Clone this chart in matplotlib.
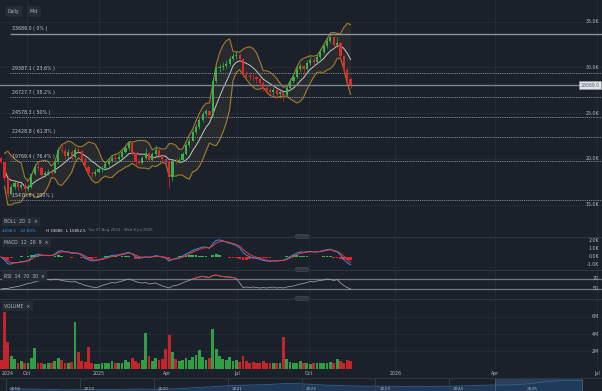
import matplotlib
matplotlib.use('Agg')
import matplotlib.pyplot as plt
import numpy as np
import pandas as pd
from matplotlib.patches import FancyBboxPatch
from matplotlib.transforms import blended_transform_factory

W, H = 602, 391
BG = '#1b212a'
GRID = '#262d37'
TXT = '#b4b9bf'
UP = '#36b44b'
DOWN = '#e3262b'

# ---- data (one candle = 3 trading days) ----
first_open = 20100
closes = [19700, 17900, 16100, 16900, 17300, 16900, 17100, 16700, 16900, 18300,
          19100, 19000, 18200, 18400, 18600, 18500, 19600, 21000, 20900, 20300,
          20800, 20200, 21000, 20900, 20000, 19100, 18500, 18300, 18600, 18900,
          19000, 19400, 19800, 20100, 20000, 20200, 20800, 21200, 21700, 20600,
          19600, 19500, 20100, 20600, 19900, 20500, 21000, 20300, 20000, 19700,
          18000, 19800, 19700, 19900, 20500, 21500, 22000, 22900, 23500, 24200,
          24900, 25200, 24800, 28500, 29900, 30000, 30200, 30400, 30900, 31200,
          31400, 30900, 29200, 29100, 29000, 28900, 28700, 28300, 27800, 27500,
          27300, 27500, 27100, 27300, 27000, 27800, 28500, 29000, 29800, 30100,
          29800, 30500, 30800, 30600, 31100, 31700, 32300, 32900, 33300, 32400,
          32700, 31200, 29700, 28700, 28069]
highs = [20300, 19800, 18100, 17200, 17600, 17500, 17400, 17300, 17200, 18500,
         19400, 19500, 19200, 18700, 18900, 18900, 19800, 21300, 21700, 21200,
         21100, 21000, 21300, 21400, 21000, 20200, 19300, 18700, 18900, 19200,
         19300, 19700, 20100, 20400, 20400, 20500, 21100, 21500, 21900, 21800,
         20700, 19900, 20300, 21200, 20700, 20800, 21500, 21100, 20400, 20100,
         19800, 20000, 20100, 20200, 20700, 21700, 22300, 23100, 23800, 24500,
         25200, 25500, 25300, 28800, 30300, 30400, 30600, 30800, 31200, 31600,
         31800, 31600, 31000, 29600, 29400, 29300, 29100, 28900, 28500, 28000,
         27800, 27900, 27600, 27500, 27400, 28000, 28800, 29300, 30100, 30500,
         30300, 30800, 31200, 31100, 31500, 32000, 32600, 33200, 33686, 33400,
         33300, 32800, 31300, 29900, 28900]
lows = [19500, 17600, 15852.5, 16000, 16700, 16600, 16700, 16400, 16500, 16800,
        18200, 18700, 17900, 18000, 18200, 18200, 18400, 19500, 20600, 20000,
        20100, 19900, 20000, 20600, 19700, 18900, 18200, 18000, 18100, 18400,
        18600, 18800, 19200, 19600, 19700, 19800, 20100, 20600, 21000, 20400,
        19300, 19300, 19400, 20000, 19600, 19800, 20300, 20100, 19700, 19300,
        16800, 17600, 19400, 19500, 19800, 20400, 21300, 21900, 22700, 23300,
        24000, 24700, 24500, 24700, 28300, 29500, 29700, 29900, 30200, 30700,
        30900, 30600, 28900, 28800, 28600, 28500, 28300, 27900, 27400, 27100,
        26900, 27000, 26700, 26700, 26300, 26900, 27600, 28300, 28800, 29600,
        29400, 29600, 30300, 30200, 30400, 30900, 31500, 32100, 32700, 32100,
        32200, 30900, 29400, 28300, 27700]
volumes = [1.0, 6.6, 3.1, 1.4, 1.1, 0.7, 0.9, 0.6, 0.7, 1.2,
           2.4, 0.7, 0.6, 0.5, 0.7, 0.6, 0.9, 1.2, 1.0, 0.7,
           0.6, 0.8, 5.4, 1.9, 0.9, 0.8, 2.5, 0.7, 0.5, 0.5,
           0.6, 0.7, 0.6, 0.9, 0.6, 0.7, 0.6, 1.0, 0.8, 1.2,
           0.9, 0.6, 1.0, 4.1, 1.4, 0.9, 1.2, 1.0, 1.1, 2.3,
           3.9, 1.9, 1.1, 0.9, 1.0, 1.2, 1.0, 1.3, 1.6, 2.1,
           1.3, 1.0, 1.2, 4.6, 2.3, 1.4, 1.1, 1.0, 1.3, 0.9,
           1.0, 0.8, 1.4, 0.9, 0.7, 0.8, 0.6, 0.7, 0.9, 0.6,
           0.6, 0.7, 0.6, 0.7, 3.6, 1.1, 0.8, 0.7, 0.6, 0.9,
           0.6, 0.7, 0.5, 0.6, 0.7, 0.6, 0.7, 0.6, 0.8, 0.7,
           1.1, 0.9, 0.7, 1.0, 0.9]
rsi_vals = [50, 51, 51, 53, 54, 55, 57, 59, 61, 62,
            64, 66, 67, 68, 69, 68, 70, 69, 67, 66,
            65, 64, 65, 62, 60, 57, 56, 54, 53, 54,
            57, 59, 61, 63, 62, 64, 66, 68, 70, 68,
            65, 63, 62, 63, 60, 61, 62, 59, 56, 54,
            52, 56, 57, 59, 62, 65, 67, 70, 72, 74,
            75, 74, 73, 77, 78, 76, 75, 74, 74, 73,
            71, 62, 53, 54, 53, 54, 53, 52, 53, 52,
            53, 54, 52, 53, 52, 54, 55, 56, 58, 60,
            61, 63, 65, 64, 66, 67, 68, 70, 69, 67,
            69, 62, 57, 53, 50]

fib_levels = [33686.0, 29387.1, 26727.7, 24578.3, 22428.8, 19769.4, 15470.6]
fib_pcts = ['0%', '23.6%', '38.2%', '50%', '61.8%', '76.4%', '100%']
last_price = 28069.0

price_ticks = [15000, 20000, 25000, 30000, 35000]
macd_ticks = [-1000, 0, 1000, 2000]
rsi_ticks = [50, 70]
vol_ticks = [2, 4, 6]
time_labels = ['2024', 'Oct', '2025', 'Apr', 'Jul', 'Oct', '2026', 'Apr', 'Jul']
time_slots = [7, 24, 88, 149, 212, 276, 353, 442, 533]

ov_years = [2018, 2019, 2020, 2021, 2022, 2023, 2024, 2025]
ov_values = [8, 7.5, 7, 6, 6.5, 6.8, 7, 7.5, 7, 8, 10, 12, 14, 15, 16, 18,
             17, 15, 14, 13, 13, 12.5, 12, 12.5, 13, 14, 15, 15, 17, 21, 24, 23]

# ---- derived ----
n = len(closes)
x = np.arange(n) * 3 + 1
opens = [first_open] + closes[:-1]
s = pd.Series(closes, dtype=float)
mid = s.rolling(7, min_periods=2).mean()
sd = s.rolling(7, min_periods=2).std(ddof=0)
upper = mid + 2 * sd
lower = mid - 2 * sd
macd = s.ewm(span=4, adjust=False).mean() - s.ewm(span=9, adjust=False).mean()
signal = macd.ewm(span=3, adjust=False).mean()
hist = macd - signal
up = np.array(closes) >= np.array(opens)
cols = np.where(up, UP, DOWN)

fig = plt.figure(figsize=(W / 100, H / 100), dpi=100, facecolor=BG)
XMAX = 537.5


def pane(top, bottom, xmax=XMAX):
    ax = fig.add_axes([0, 1 - bottom / H, 1, (bottom - top) / H])
    ax.set_facecolor(BG)
    ax.set_xlim(0, xmax)
    for sp in ax.spines.values():
        sp.set_visible(False)
    ax.set_xticks([])
    ax.set_yticks([])
    return ax


def ftext(px, py, txt, **kw):
    kw.setdefault('fontsize', 3.3)
    kw.setdefault('color', TXT)
    kw.setdefault('va', 'center')
    return fig.text(px / W, 1 - py / H, txt, **kw)


def right_labels(ax, ticks, fmt):
    tr = blended_transform_factory(ax.transAxes, ax.transData)
    for t in ticks:
        ax.text(0.995, t, fmt(t), transform=tr, ha='right', va='center',
                fontsize=3.4, color=TXT)


def vgrid(ax):
    for sl in time_slots[1:]:
        ax.axvline(sl, color=GRID, lw=0.6, zorder=0)


# main pane
ax = pane(0, 236)
ax.set_ylim(11556, 37374)
vgrid(ax)
for p in price_ticks:
    ax.axhline(p, color=GRID, lw=0.6, zorder=0)
ax.fill_between(x, lower, upper, color='#3a3934', alpha=0.45, lw=0, zorder=1)
ax.plot(x, upper, color='#a47c2c', lw=0.8, zorder=2)
ax.plot(x, lower, color='#a47c2c', lw=0.8, zorder=2)
ax.plot(x, mid, color='#c4c6c8', lw=0.7, zorder=2)
ax.vlines(x, lows, highs, colors=cols, lw=0.5, zorder=3)
body = np.array(closes) - np.array(opens)
ax.bar(x, np.where(np.abs(body) < 60, 60, body), bottom=opens, width=1.9,
       color=cols, lw=0, zorder=4)
for lvl, pct in zip(fib_levels, fib_pcts):
    if pct == '0%':
        ax.hlines(lvl, 9, XMAX, color='#8d939b', lw=1.0, zorder=2)
    else:
        ax.hlines(lvl, 9, XMAX, color='#9aa0a8', lw=0.6, ls=(0, (1.3, 1.3)), zorder=2)
    ax.text(11, lvl + 250, f'{lvl:.1f} ( {pct} )', fontsize=3.4, color='#c5c9ce',
            va='bottom', ha='left', zorder=5)
ax.axhline(last_price, color='#7d838b', lw=1.0, zorder=2)
right_labels(ax, price_ticks, lambda t: f'{t / 1000:.1f}K')
tr = blended_transform_factory(ax.transAxes, ax.transData)
ax.text(0.996, last_price, f'{last_price:.1f}', transform=tr, ha='right', va='center',
        fontsize=3.3, color='#5a5f66', zorder=6,
        bbox=dict(boxstyle='square,pad=0.35', fc='#dfe2e6', ec='#a0a5ab', lw=0.4))

# MACD pane
axm = pane(237, 269)
axm.set_ylim(-1500, 2500)
vgrid(axm)
axm.bar(x, hist, width=2.4, color=np.where(hist >= 0, UP, DOWN), lw=0, zorder=2)
axm.plot(x, macd, color='#3b8fe8', lw=0.7, zorder=3)
axm.plot(x, signal, color='#e8383c', lw=0.7, zorder=3)
right_labels(axm, macd_ticks, lambda t: f'{t / 1000:.1f}K')

# RSI pane
axr = pane(270, 298)
axr.set_ylim(32, 88)
vgrid(axr)
for t in rsi_ticks:
    axr.axhline(t, color='#6f7984', lw=0.9, zorder=1)
rsi = np.array(rsi_vals, dtype=float)
axr.plot(x, rsi, color='#9ea3a9', lw=0.55, zorder=2)
axr.plot(x, np.where(rsi >= 70, rsi, np.nan), color='#e8383c', lw=0.6, zorder=3)
right_labels(axr, rsi_ticks, lambda t: f'{t}')

# volume pane
axv = pane(299, 369)
axv.set_ylim(-0.05, 8.05)
vgrid(axv)
for t in vol_ticks:
    axv.axhline(t, color=GRID, lw=0.6, zorder=0)
axv.bar(x, volumes, width=2.5, color=cols, alpha=0.85, lw=0, zorder=2)
right_labels(axv, vol_ticks, lambda t: f'{t}M')

# time axis
axt = pane(369, 378)
for lab, sl in zip(time_labels, time_slots):
    axt.text(sl, 0.5, lab, fontsize=3.4, color=TXT, ha='center', va='center')
axt.set_ylim(0, 1)

# overview strip
axo = pane(378, 391, xmax=2026.065)
axo.set_xlim(2017.919, 2026.065)
qx = 2018 + np.arange(len(ov_values)) * 0.25 + 0.05
axo.set_ylim(4, 28)
axo.axvspan(2024.62, qx[-1], color='#29486b', alpha=0.8, lw=0, zorder=0)
axo.fill_between(qx, 0, ov_values, color='#1f3b5c', alpha=0.95, lw=0, zorder=1)
axo.plot(qx, ov_values, color='#33628f', lw=0.6, zorder=2)
for yr in ov_years:
    axo.axvline(yr, color='#3a414b', lw=0.6, zorder=3)
    axo.text(yr + 0.05, 8, str(yr), fontsize=3.2, color=TXT, va='center', zorder=4)
axo.axvline(2024.62, color='#55606c', lw=0.6, zorder=3)
axo.axvline(qx[-1], color='#55606c', lw=0.6, zorder=3)

# separators and handles
for yy in [236.5, 269.5, 298.5, 377.5]:
    fig.add_artist(plt.Line2D([0, 1], [1 - yy / H] * 2, color='#2e3540', lw=0.8))
for yy in [236.5, 269.5, 298.5]:
    fig.add_artist(FancyBboxPatch((295 / W, 1 - (yy + 2) / H), 14 / W, 4 / H,
                                  boxstyle='round,pad=0,rounding_size=0.004',
                                  fc='#353b45', ec='#4a515c', lw=0.4,
                                  transform=fig.transFigure))

# buttons and legends
btn = dict(boxstyle='round,pad=0.6,rounding_size=0.4', fc='#262d37', ec='none')
ftext(8, 11.5, 'Daily', bbox=btn)
ftext(30, 11.5, 'Mid', bbox=btn)
leg = dict(boxstyle='square,pad=0.5', fc='#252b35', ec='none')
ftext(4, 221.5, 'BOLL  20  2  \u00d7', bbox=leg)
ftext(2, 230.5, '4,096.5', color='#3b8fe8', fontsize=2.9)
ftext(20, 230.5, '-42.68%', color='#3b8fe8', fontsize=2.9)
ftext(46, 230.5, 'H 33686', color='#e6e8ea', fontsize=2.9)
ftext(66, 230.5, 'L 15852.5', color='#e6e8ea', fontsize=2.9)
ftext(88, 230.5, 'Tue 27 Aug 2024 - Wed 8 Jul 2026', color='#7d838b', fontsize=2.7)
ftext(4, 242.5, 'MACD  12  26  9  \u00d7', bbox=leg)
ftext(4, 276, 'RSI  14  70  30  \u00d7', bbox=leg)
ftext(4, 306, 'VOLUME  \u00d7', bbox=leg)

fig.savefig('out.png', dpi=100, facecolor=BG)
